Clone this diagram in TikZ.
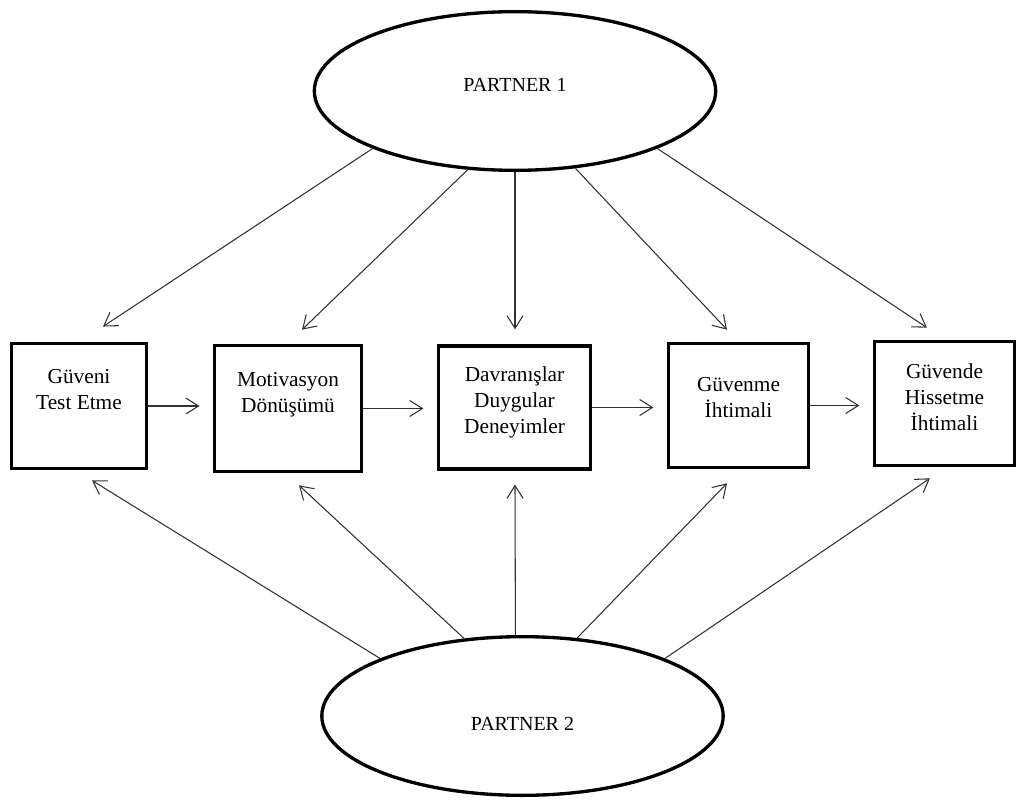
\documentclass[tikz,border=0pt]{standalone}
\usepackage{fontspec}
\setmainfont{Liberation Serif}
\usetikzlibrary{arrows.meta,shapes.geometric}
\definecolor{linkgray}{RGB}{50,50,50}
% text block lifted inside its frame, frame size kept
\newcommand{\lifttext}[2]{\raisebox{#1}[\height][\depth]{\begin{tabular}{@{}c@{}}#2\end{tabular}}}

\begin{document}
\begin{tikzpicture}[x=0.75pt,y=-0.75pt,
  partner/.style={draw,ellipse,line width=2.5pt,minimum width=301pt,minimum height=119pt,font=\fontsize{15}{18}\selectfont},
  stage/.style={draw,line width=2.7pt,font=\fontsize{16}{19.5}\selectfont},
  link/.style={-{Straight Barb[length=9.5pt,width=12pt]},linkgray,line width=0.8pt}]
  \useasboundingbox (0,0) rectangle (1017,803);
  % the two partners
  \node[partner] (p1) at (515,91) {\lifttext{3pt}{PARTNER 1}};
  \node[partner] (p2) at (522.5,716) {\lifttext{-7pt}{PARTNER 2}};
  % the chain of stages
  \node[stage,minimum width=101pt,minimum height=94pt] (b1) at (79,406) {\lifttext{11pt}{Güveni\\Test Etme}};
  \node[stage,minimum width=110pt,minimum height=94.5pt] (b2) at (288,408.5) {\lifttext{10.5pt}{Motivasyon\\Dönüşümü}};
  \node[stage,minimum width=114pt,minimum height=92pt] (b3) at (514.5,407.5) {\lifttext{4pt}{Davranışlar\\Duygular\\Deneyimler}};
  \node[stage,minimum width=105pt,minimum height=93pt] (b4) at (738.5,405.5) {\lifttext{5pt}{Güvenme\\İhtimali}};
  \node[stage,minimum width=105pt,minimum height=93pt] (b5) at (944.5,403.5) {\lifttext{3pt}{Güvende\\Hissetme\\İhtimali}};
  \foreach \s/\t in {b1/b2,b2/b3,b3/b4,b4/b5}{\draw[link,shorten >=10pt] (\s.east) -- (\s.east -| \t.west);}
  % partner 1 down to every stage, partner 2 up to every stage
  \foreach \b/\a/\dx/\dy in {b1/202/24/-15,b2/239/14/-14,b3/270/0.5/-15,b4/308/-11.5/-12,b5/338/-17.5/-12}{
    \draw[link] (p1.\a) -- ([shift={(\dx,\dy)}]\b.north);
  }
  \foreach \b/\a/\dx/\dy in {b1/158/13/10,b2/127/11/12,b3/95/0.5/14,b4/55.5/-11.5/14,b5/22/-14.5/11}{
    \draw[link] (p2.\a) -- ([shift={(\dx,\dy)}]\b.south);
  }
\end{tikzpicture}
\end{document}
